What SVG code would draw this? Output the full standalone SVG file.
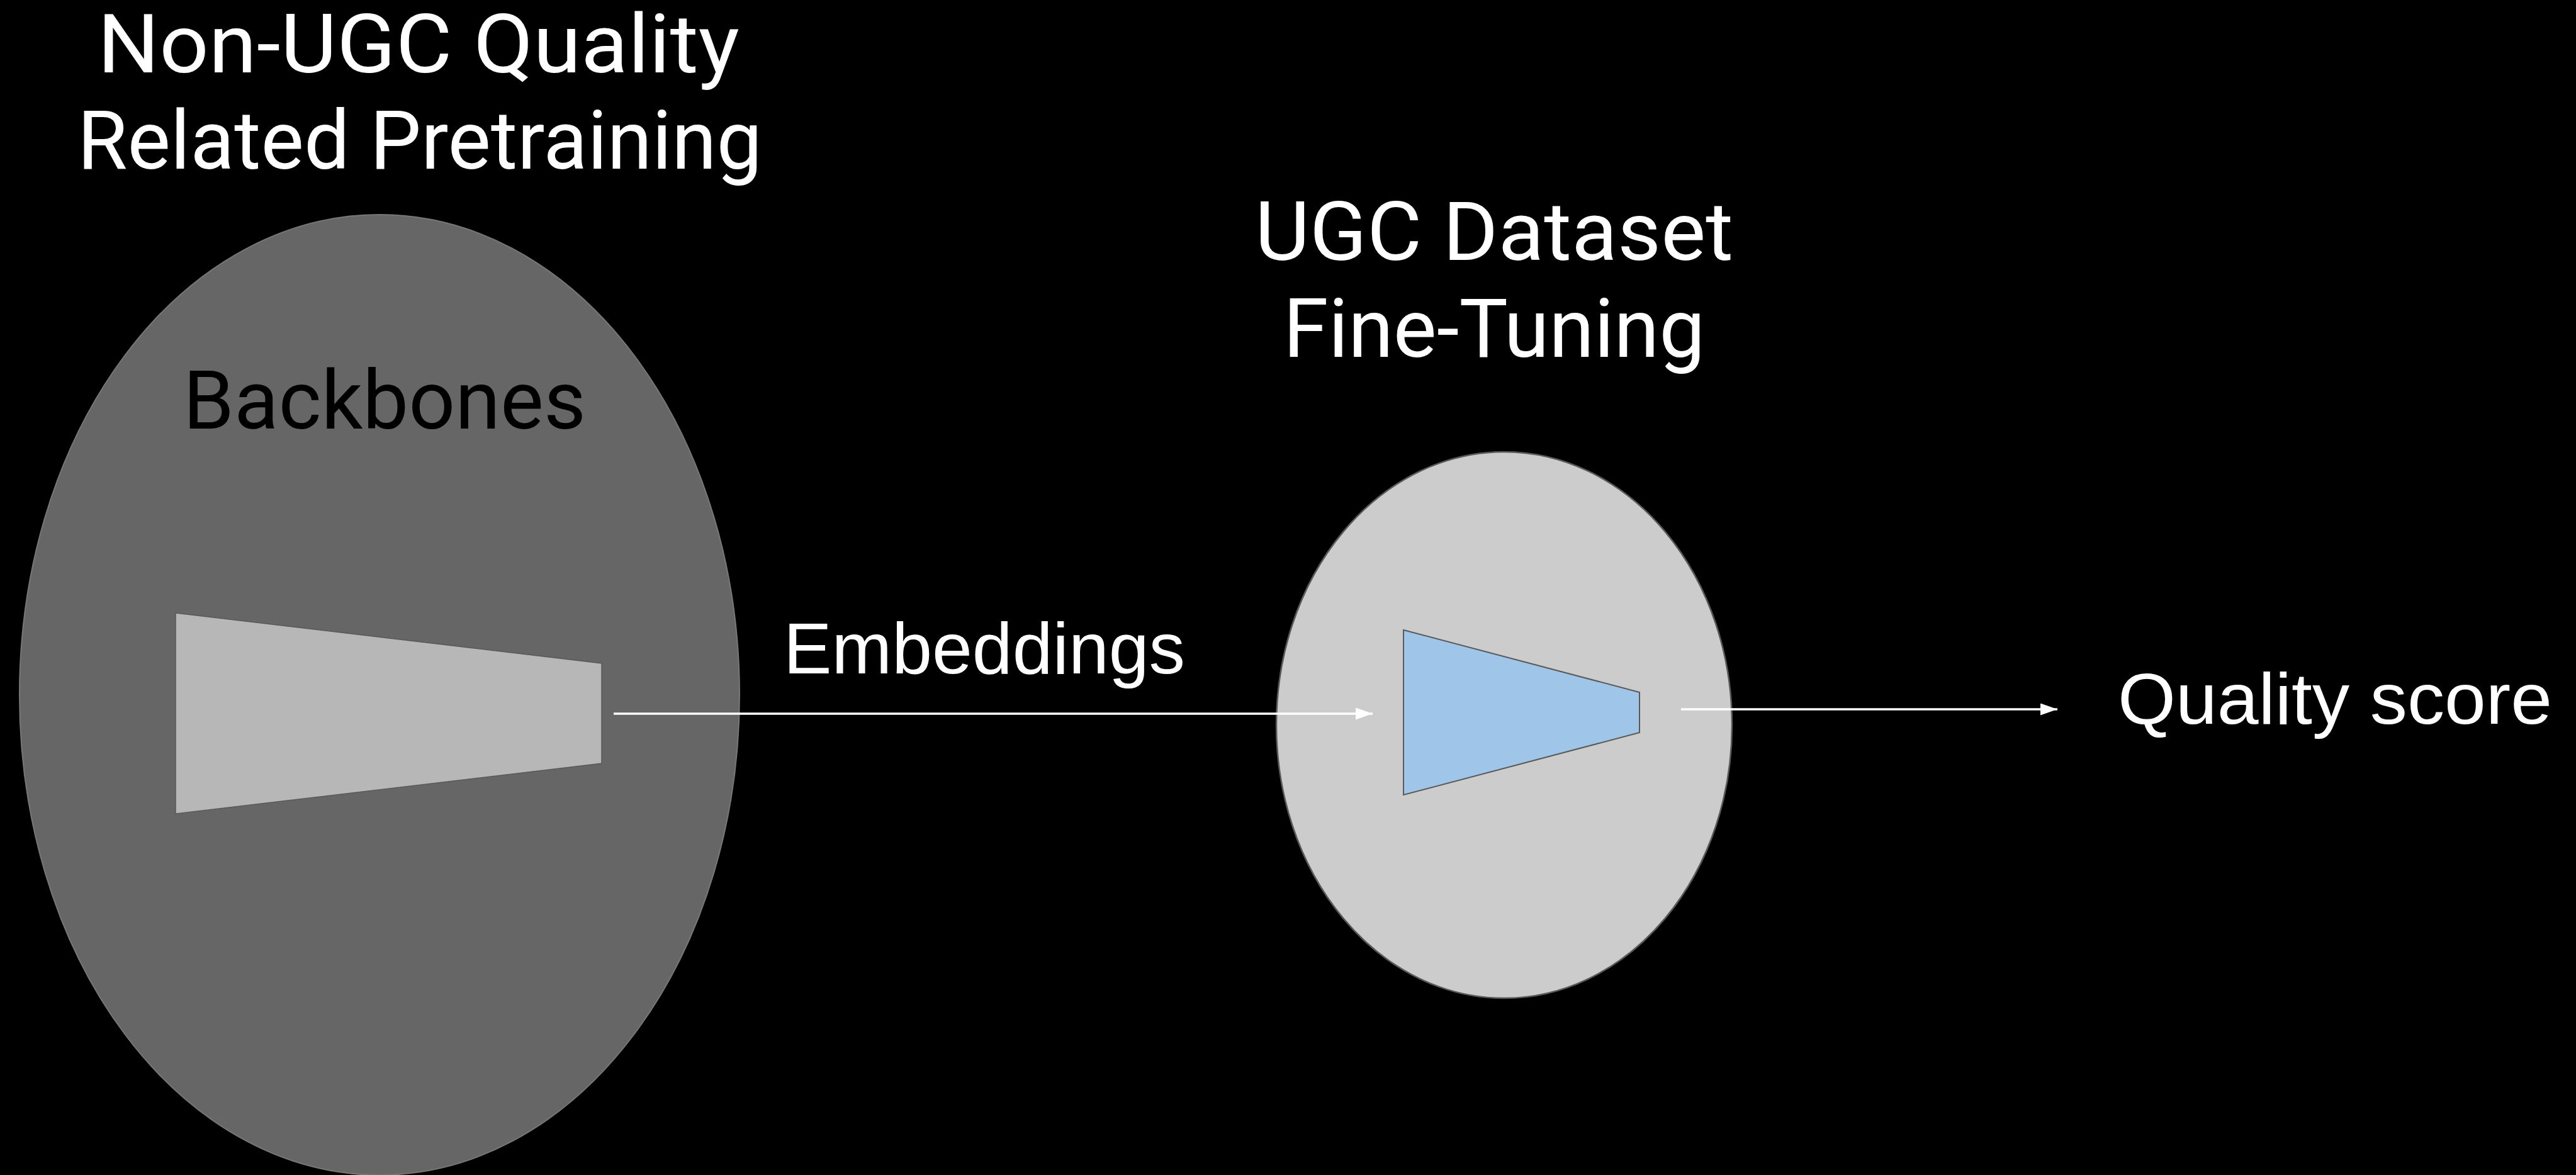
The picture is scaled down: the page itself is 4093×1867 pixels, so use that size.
<svg xmlns="http://www.w3.org/2000/svg" width="4093" height="1867" viewBox="0 0 4093 1867">
  <style>
    .title { font-family: Roboto, "Open Sans", sans-serif; font-size: 129px; fill: #ffffff; }
    .dark { font-family: Roboto, "Open Sans", sans-serif; font-size: 129px; fill: #000000; }
    .label { font-family: "Liberation Sans", Arial, sans-serif; font-size: 115px; fill: #ffffff; }
    .conn { stroke: #ffffff; stroke-width: 3.5; fill: none; }
  </style>
  <defs>
    <marker id="arrow" markerUnits="userSpaceOnUse" markerWidth="27" markerHeight="19" viewBox="0 0 27 19" refX="27" refY="9.5" orient="auto">
      <path d="M0,0 L27,9.5 L0,19 Z" fill="#ffffff"/>
    </marker>
  </defs>
  <rect x="0" y="0" width="4093" height="1867" fill="#000000"/>

  <g id="pretraining-title">
    <text class="title" x="155" y="115" textLength="1020" lengthAdjust="spacingAndGlyphs">Non-UGC Quality</text>
    <text class="title" x="123" y="268" textLength="1088" lengthAdjust="spacingAndGlyphs">Related Pretraining</text>
  </g>

  <g id="backbones">
    <ellipse cx="603" cy="1104" rx="572" ry="763" fill="#666666" stroke="#777777" stroke-width="2"/>
    <text class="dark" x="291" y="681" textLength="640" lengthAdjust="spacingAndGlyphs">Backbones</text>
    <polygon points="279,974 956,1054 956,1213 279,1293" fill="#b7b7b7" stroke="#595959" stroke-width="1.5"/>
  </g>

  <g id="finetuning-title">
    <text class="title" x="1994" y="413" textLength="760" lengthAdjust="spacingAndGlyphs">UGC Dataset</text>
    <text class="title" x="2039" y="567" textLength="670" lengthAdjust="spacingAndGlyphs">Fine-Tuning</text>
  </g>

  <g id="finetuning">
    <ellipse cx="2390" cy="1152" rx="362" ry="434" fill="#cccccc" stroke="#595959" stroke-width="2.5"/>
    <polygon points="2230,1001 2605,1100 2605,1164 2230,1263" fill="#9fc5e8" stroke="#595959" stroke-width="2"/>
  </g>

  <g id="embeddings-label">
    <text class="label" x="1245" y="1070" textLength="638" lengthAdjust="spacingAndGlyphs">Embeddings</text>
  </g>

  <g id="quality-score">
    <text class="label" x="3365" y="1150" textLength="690" lengthAdjust="spacingAndGlyphs">Quality score</text>
  </g>

  <g id="connectors">
    <line class="conn" x1="975" y1="1134" x2="2181" y2="1134" marker-end="url(#arrow)"/>
    <line class="conn" x1="2671" y1="1127" x2="3269" y2="1127" marker-end="url(#arrow)"/>
  </g>
</svg>
